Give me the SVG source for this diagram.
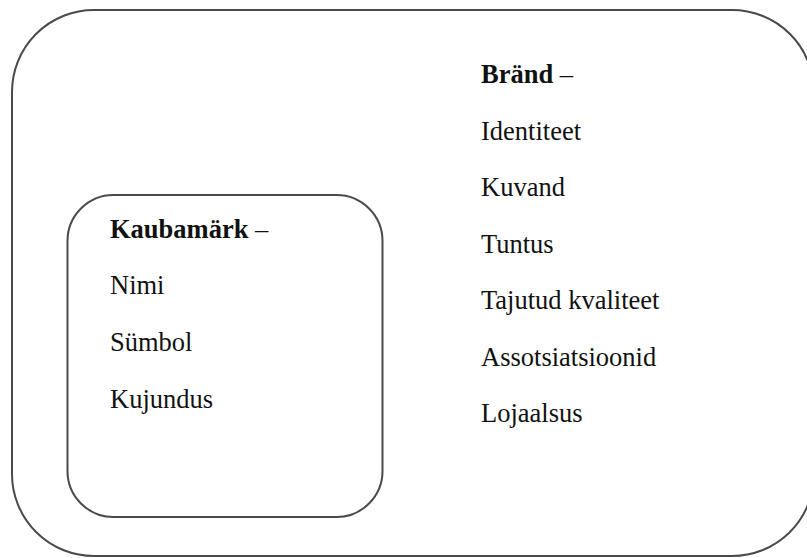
<svg xmlns="http://www.w3.org/2000/svg" width="807" height="558" viewBox="0 0 807 558">
<style>
.box{fill:none;stroke:#4a4a4a;stroke-width:2}
.t{font-family:"Liberation Serif","Times New Roman",serif;font-size:26.5px;fill:#111}
.b{font-weight:bold}
</style>
<rect width="807" height="558" fill="#fff"/>
<g id="brand">
<rect class="box" x="12" y="10" width="802" height="546" rx="82" ry="82"/>
<text class="t" x="481" y="83"><tspan class="b">Bränd</tspan> –</text>
<text class="t" x="481" y="139.5">Identiteet</text>
<text class="t" x="481" y="196">Kuvand</text>
<text class="t" x="481" y="252.5">Tuntus</text>
<text class="t" x="481" y="309">Tajutud kvaliteet</text>
<text class="t" x="481" y="365.5">Assotsiatsioonid</text>
<text class="t" x="481" y="422">Lojaalsus</text>
</g>
<g id="kaubamark">
<rect class="box" x="67.5" y="195" width="315" height="322" rx="46" ry="46"/>
<text class="t" x="110" y="238"><tspan class="b">Kaubamärk</tspan> –</text>
<text class="t" x="110" y="294">Nimi</text>
<text class="t" x="110" y="351">Sümbol</text>
<text class="t" x="110" y="408">Kujundus</text>
</g>
<g id="connectors"/>
</svg>
